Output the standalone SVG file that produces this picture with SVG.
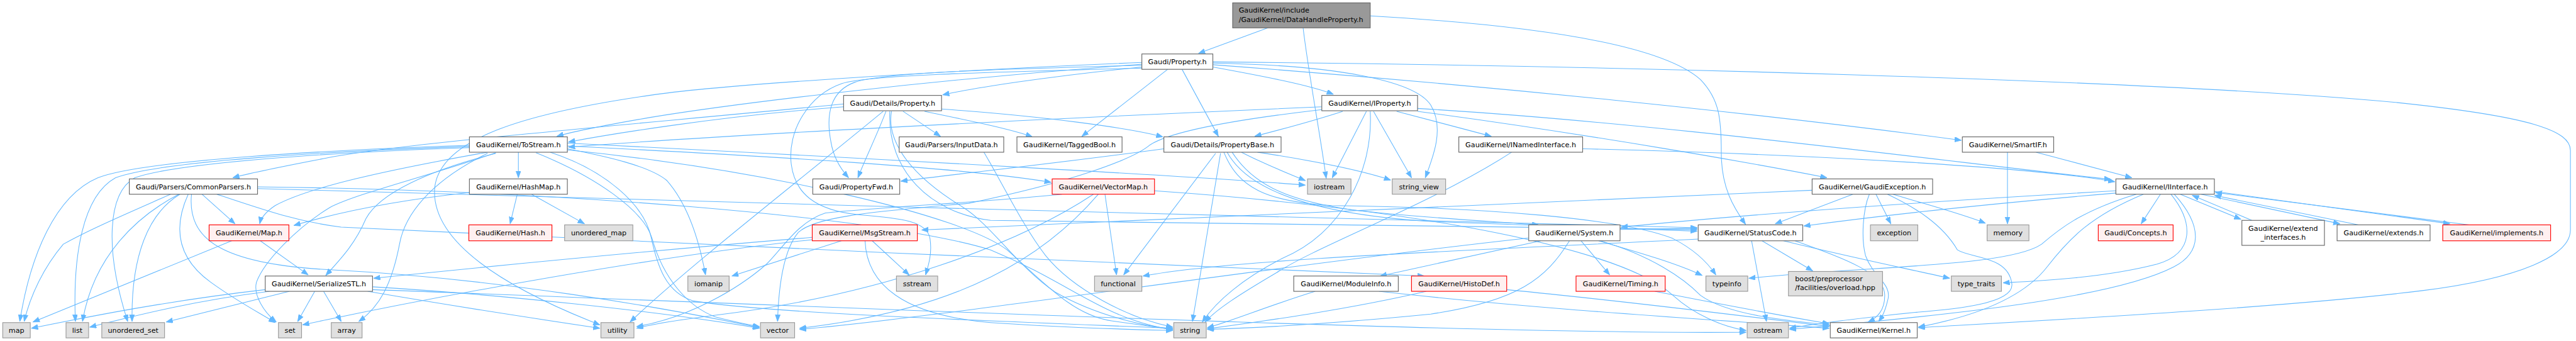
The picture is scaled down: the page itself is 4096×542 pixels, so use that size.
<svg xmlns="http://www.w3.org/2000/svg" width="4096" height="542" viewBox="0 0 4096 542">
<defs>
<marker id="ah" markerUnits="userSpaceOnUse" markerWidth="13" markerHeight="10" refX="12" refY="4.5" orient="auto"><path d="M0,0 L12,4.5 L0,9 z" fill="#63b8ff" stroke="#63b8ff" stroke-width="1"/></marker>
</defs>
<style>
.e path{fill:none;stroke:#63b8ff;stroke-width:1.2;marker-end:url(#ah)}
.node rect{fill:#ffffff;stroke:#666666;stroke-width:1.3}
.x rect{fill:#e0e0e0;stroke:#999999}
.r rect{fill:#fff0f0;stroke:#ff0000}
.m rect{fill:#999999;stroke:#666666}
text{font-family:"DejaVu Sans",sans-serif;font-size:12.8px;fill:#000000;text-anchor:middle}
.l text{text-anchor:start}
</style>
<rect width="4096" height="542" fill="#ffffff"/>
<g transform="scale(0.875)">
<g id="edges" class="e" transform="scale(1,1.0316)">
<path d="M2304,49 L2178,94"/>
<path d="M2368,49 C2378,130 2398,230 2410,314"/>
<path d="M2490,28 C2800,45 3020,80 3090,140 C3125,175 3128,210 3128,270 C3128,330 3150,365 3172,395"/>
<path d="M2075,118 C1900,135 1770,155 1713,167"/>
<path d="M2075,113 C1700,140 1350,180 1180,207 C1090,222 1040,232 1012,240"/>
<path d="M1533,183 C1200,215 750,250 600,277 C520,292 460,303 423,313"/>
<path d="M2122,122 L1966,240"/>
<path d="M2148,122 L2214,240"/>
<path d="M2204,118 C2300,135 2380,150 2423,166"/>
<path d="M2204,114 C2700,150 3200,200 3564,247"/>
<path d="M2204,109 C2900,115 3900,140 4350,180 C4600,205 4671,230 4671,265 L4671,405 C4671,450 4580,490 4400,512 C4150,542 3700,565 3486,577"/>
<path d="M2204,111 C2420,115 2570,140 2600,185 C2625,225 2605,275 2590,313"/>
<path d="M2075,115 C1800,122 1600,128 1553,145 C1510,160 1500,200 1510,250 C1515,280 1530,300 1542,313"/>
<path d="M2075,120 C1800,127 1580,132 1530,147 C1470,167 1430,230 1438,290 C1445,340 1480,370 1560,378 C1640,384 1685,390 1690,420 C1694,445 1688,465 1682,484"/>
<path d="M2075,110 C1700,125 1300,150 1180,168 C950,200 800,245 790,330 C782,420 900,500 1090,572"/>
<path d="M1533,188 C1300,205 1100,238 1033,250"/>
<path d="M1610,196 C1595,235 1572,280 1559,313"/>
<path d="M1641,196 L1709,240"/>
<path d="M1680,196 C1760,212 1840,228 1876,241"/>
<path d="M1711,192 C1900,205 2050,225 2113,241"/>
<path d="M1605,196 C1450,320 1250,470 1145,567"/>
<path d="M1617,196 C1612,300 1690,375 1800,388 C2300,398 2800,402 3084,404"/>
<path d="M1620,196 C1612,240 1640,300 1750,365 C1800,395 1850,470 1917,514 C1990,555 2080,575 2131,579"/>
<path d="M853,256 C600,264 260,282 178,313 C100,345 55,450 36,566"/>
<path d="M853,258 C600,266 290,284 210,313 C150,345 132,450 137,566"/>
<path d="M853,260 C600,268 320,287 245,313 C195,340 190,440 232,566"/>
<path d="M942,268 L942,313"/>
<path d="M886,268 C700,300 560,330 500,362 C480,375 474,385 472,394"/>
<path d="M901,269 C780,310 650,340 600,365 C540,400 480,460 466,497 C460,520 480,550 502,567"/>
<path d="M901,270 C780,300 690,340 665,385 C645,430 620,455 592,485"/>
<path d="M886,270 C780,320 735,380 726,430 C712,500 690,540 652,566"/>
<path d="M1031,262 C1100,275 1180,292 1212,318 C1250,360 1270,420 1282,484"/>
<path d="M1000,268 C1100,300 1170,360 1183,417 C1195,470 1210,515 1260,530 C1400,552 1800,565 2131,578"/>
<path d="M974,269 C1080,310 1170,370 1185,420 C1205,490 1250,540 1300,558 C1340,568 1360,572 1380,575"/>
<path d="M1031,264 C1400,300 1750,380 1830,440 C1900,500 1950,555 2020,565 C2070,572 2100,576 2131,580"/>
<path d="M1031,257 C1400,275 1750,295 1910,321"/>
<path d="M1031,252 C1600,280 2200,312 2372,326"/>
<path d="M940,342 L927,394"/>
<path d="M966,342 L1062,394"/>
<path d="M853,339 C700,355 600,378 534,397"/>
<path d="M310,342 C240,372 160,405 115,430 C80,470 55,520 44,566"/>
<path d="M325,342 C250,380 170,450 150,566"/>
<path d="M327,342 C270,375 238,450 240,566"/>
<path d="M342,342 C310,410 330,460 383,497 C430,530 470,550 500,568"/>
<path d="M367,342 L427,394"/>
<path d="M348,342 C340,420 400,465 600,475 C900,490 1200,540 1380,577"/>
<path d="M394,342 C480,370 540,390 620,400 C1200,430 2000,460 2588,486"/>
<path d="M468,332 C1200,350 2500,392 3084,401"/>
<path d="M468,329 C1000,335 1600,380 1800,440 C1950,500 2000,560 2131,581"/>
<path d="M421,424 L60,567"/>
<path d="M473,424 L560,484"/>
<path d="M482,510 C300,530 150,560 57,578"/>
<path d="M490,513 C350,530 250,555 163,576"/>
<path d="M526,513 L302,567"/>
<path d="M572,513 L541,566"/>
<path d="M588,513 L620,566"/>
<path d="M668,513 C800,535 1000,565 1090,578"/>
<path d="M677,505 C900,518 1200,548 1380,578"/>
<path d="M677,510 C1500,540 2700,590 3173,585"/>
<path d="M1529,424 L1330,486"/>
<path d="M1585,424 L1652,484"/>
<path d="M1572,424 C1575,500 1640,555 1800,568 C1950,578 2050,580 2131,582"/>
<path d="M1476,418 C1200,440 900,468 679,490"/>
<path d="M1476,422 C1200,450 800,520 550,572"/>
<path d="M2008,342 L2029,484"/>
<path d="M1996,342 C1900,450 1750,545 1453,578"/>
<path d="M1930,342 C1800,355 1600,365 1500,375 C1450,390 1420,440 1393,465 C1340,510 1250,560 1157,575"/>
<path d="M1987,342 C1850,430 1600,520 1300,555 C1220,565 1180,572 1157,578"/>
<path d="M2098,336 C2600,370 2950,440 3040,520 C3080,555 3130,575 3173,582"/>
<path d="M2115,262 C1900,290 1750,305 1637,319"/>
<path d="M2209,270 L2042,484"/>
<path d="M2218,270 L2167,566"/>
<path d="M2256,268 C2300,290 2340,305 2372,318"/>
<path d="M2285,268 C2400,285 2480,302 2527,317"/>
<path d="M2239,268 C2280,330 2350,355 2460,370 C2600,385 2720,390 2796,396"/>
<path d="M2230,268 C2270,340 2400,378 2600,390 C2900,400 3000,403 3084,407"/>
<path d="M2224,268 C2250,330 2300,355 2420,362 C2700,365 2950,385 3040,420 C3080,440 3105,465 3118,484"/>
<path d="M2800,424 L2508,486"/>
<path d="M2873,424 L2925,484"/>
<path d="M2852,424 C2810,490 2760,530 2600,553 C2400,572 2260,578 2194,580"/>
<path d="M2905,424 C2980,445 3050,465 3093,485"/>
<path d="M2908,424 C3000,450 3060,490 3090,520 C3140,555 3250,565 3324,572"/>
<path d="M2944,404 L3084,402"/>
<path d="M2778,419 C2300,470 1700,560 1453,580"/>
<path d="M3183,424 L3210,566"/>
<path d="M3202,424 L3294,477"/>
<path d="M3241,424 C3350,450 3450,470 3543,490"/>
<path d="M3262,424 C3350,455 3425,480 3425,520 C3425,548 3410,560 3395,567"/>
<path d="M3086,421 C2700,440 2250,455 2077,486"/>
<path d="M3367,342 L3226,394"/>
<path d="M3397,342 C3385,370 3382,420 3390,450 C3405,490 3440,500 3430,530 C3425,550 3420,558 3414,566"/>
<path d="M3409,342 L3436,394"/>
<path d="M3440,342 C3500,360 3560,375 3608,393"/>
<path d="M3430,342 C3480,365 3530,395 3557,440 C3580,455 3650,450 3656,500 C3660,535 3550,545 3480,550 C3400,558 3300,570 3252,578"/>
<path d="M3293,335 C2600,360 2000,390 1675,405"/>
<path d="M3926,342 L3891,394"/>
<path d="M3845,336 C3500,355 3200,375 2946,400"/>
<path d="M3845,340 C3600,360 3400,382 3278,398"/>
<path d="M3882,342 C3780,372 3740,405 3710,430 C3650,470 3400,468 3178,490"/>
<path d="M3895,342 C3800,380 3760,420 3720,470 C3680,520 3600,555 3486,576"/>
<path d="M3945,342 C3985,390 3990,445 3920,465 C3820,490 3700,495 3640,498"/>
<path d="M3951,342 C4005,400 4000,445 3950,470 C3850,520 3600,550 3252,580"/>
<path d="M3962,342 L4072,386"/>
<path d="M4092,388 L3984,344"/>
<path d="M4000,342 L4252,394"/>
<path d="M4286,396 L4024,344"/>
<path d="M4024,337 L4452,394"/>
<path d="M4487,396 L4026,339"/>
<path d="M3648,268 L3648,394"/>
<path d="M3700,268 L3874,313"/>
<path d="M2876,262 C3300,272 3700,295 3843,320"/>
<path d="M2747,268 C2600,360 2400,430 2320,480 C2250,520 2210,545 2190,567"/>
<path d="M2538,196 L2710,240"/>
<path d="M2483,196 L2421,313"/>
<path d="M2496,196 L2565,313"/>
<path d="M2490,196 C2496,300 2440,410 2330,455 C2260,490 2210,530 2185,567"/>
<path d="M2440,196 C2380,215 2320,230 2280,240"/>
<path d="M2402,188 C2000,205 1400,232 1033,259"/>
<path d="M2576,191 C3000,215 3500,280 3836,316"/>
<path d="M2576,196 C2900,238 3200,290 3320,313"/>
<path d="M2402,193 C2250,210 2130,230 2090,255 C2060,280 1950,320 1760,358 C1600,372 1480,380 1450,410 C1425,440 1415,500 1413,566"/>
<path d="M1788,268 C1820,320 1860,400 1900,450 C1950,510 2050,560 2131,576"/>
<path d="M2390,513 C2300,540 2240,565 2194,577"/>
<path d="M2506,513 C2800,545 3100,562 3324,578"/>
<path d="M2592,513 C2450,545 2300,565 2194,579"/>
<path d="M2738,510 C2950,530 3200,560 3324,575"/>
<path d="M3007,513 C3150,540 3250,558 3324,570"/>
</g>
<g id="n_main" class="node m l"><rect x="2240" y="5.2" width="250" height="45.4"/><text x="2251" y="22.7">GaudiKernel/include</text><text x="2251" y="40.2">/GaudiKernel/DataHandleProperty.h</text></g>
<g id="n_property" class="node"><rect x="2075" y="98" width="129" height="27.9"/><text x="2139.5" y="116.6">Gaudi/Property.h</text></g>
<g id="n_detproperty" class="node"><rect x="1533" y="173.3" width="178" height="27.9"/><text x="1622" y="191.9">Gaudi/Details/Property.h</text></g>
<g id="n_iproperty" class="node"><rect x="2402" y="173.3" width="174" height="27.9"/><text x="2489" y="191.9">GaudiKernel/IProperty.h</text></g>
<g id="n_tostream" class="node"><rect x="853" y="248.6" width="178" height="27.9"/><text x="942" y="267.2">GaudiKernel/ToStream.h</text></g>
<g id="n_inputdata" class="node"><rect x="1634" y="248.6" width="190" height="27.9"/><text x="1729" y="267.2">Gaudi/Parsers/InputData.h</text></g>
<g id="n_taggedbool" class="node"><rect x="1848" y="248.6" width="191" height="27.9"/><text x="1943.5" y="267.2">GaudiKernel/TaggedBool.h</text></g>
<g id="n_propertybase" class="node"><rect x="2115" y="248.6" width="213" height="27.9"/><text x="2221.5" y="267.2">Gaudi/Details/PropertyBase.h</text></g>
<g id="n_inamedinterface" class="node"><rect x="2651" y="248.6" width="225" height="27.9"/><text x="2763.5" y="267.2">GaudiKernel/INamedInterface.h</text></g>
<g id="n_smartif" class="node"><rect x="3566" y="248.6" width="166" height="27.9"/><text x="3649" y="267.2">GaudiKernel/SmartIF.h</text></g>
<g id="n_commonparsers" class="node"><rect x="235" y="325" width="233" height="27.8"/><text x="351.5" y="343.5">Gaudi/Parsers/CommonParsers.h</text></g>
<g id="n_hashmap" class="node"><rect x="853" y="325" width="178" height="27.8"/><text x="942" y="343.5">GaudiKernel/HashMap.h</text></g>
<g id="n_propertyfwd" class="node"><rect x="1477" y="325" width="158" height="27.8"/><text x="1556" y="343.5">Gaudi/PropertyFwd.h</text></g>
<g id="n_vectormap" class="node r"><rect x="1912" y="325" width="186" height="27.8"/><text x="2005" y="343.5">GaudiKernel/VectorMap.h</text></g>
<g id="n_iostream" class="node x"><rect x="2376" y="325" width="79" height="27.8"/><text x="2415.5" y="343.5">iostream</text></g>
<g id="n_string_view" class="node x"><rect x="2530" y="325" width="97" height="27.8"/><text x="2578.5" y="343.5">string_view</text></g>
<g id="n_gaudiexception" class="node"><rect x="3293" y="325" width="219" height="27.8"/><text x="3402.5" y="343.5">GaudiKernel/GaudiException.h</text></g>
<g id="n_iinterface" class="node"><rect x="3845" y="325" width="179" height="27.8"/><text x="3934.5" y="343.5">GaudiKernel/IInterface.h</text></g>
<g id="n_maph" class="node r"><rect x="380" y="408.5" width="145" height="28.9"/><text x="452.5" y="427.6">GaudiKernel/Map.h</text></g>
<g id="n_hashh" class="node r"><rect x="852" y="408.5" width="151" height="28.9"/><text x="927.5" y="427.6">GaudiKernel/Hash.h</text></g>
<g id="n_unordered_map" class="node x"><rect x="1026" y="408.5" width="124" height="28.9"/><text x="1088" y="427.6">unordered_map</text></g>
<g id="n_msgstream" class="node r"><rect x="1476" y="408.5" width="191" height="28.9"/><text x="1571.5" y="427.6">GaudiKernel/MsgStream.h</text></g>
<g id="n_system" class="node"><rect x="2778" y="408.5" width="166" height="28.9"/><text x="2861" y="427.6">GaudiKernel/System.h</text></g>
<g id="n_statuscode" class="node"><rect x="3086" y="408.5" width="190" height="28.9"/><text x="3181" y="427.6">GaudiKernel/StatusCode.h</text></g>
<g id="n_exception" class="node x"><rect x="3399" y="408.5" width="86" height="28.9"/><text x="3442" y="427.6">exception</text></g>
<g id="n_memory" class="node x"><rect x="3611" y="408.5" width="76" height="28.9"/><text x="3649" y="427.6">memory</text></g>
<g id="n_concepts" class="node r"><rect x="3813" y="408.5" width="136" height="28.9"/><text x="3881" y="427.6">Gaudi/Concepts.h</text></g>
<g id="n_extend_interfaces" class="node"><rect x="4074" y="400.3" width="150" height="45.4"/><text x="4149" y="419.3">GaudiKernel/extend</text><text x="4149" y="435.9">_interfaces.h</text></g>
<g id="n_extends" class="node"><rect x="4247" y="408.5" width="169" height="28.9"/><text x="4331.5" y="427.6">GaudiKernel/extends.h</text></g>
<g id="n_implements" class="node r"><rect x="4439" y="408.5" width="196" height="28.9"/><text x="4537" y="427.6">GaudiKernel/implements.h</text></g>
<g id="n_serializestl" class="node"><rect x="482" y="501.4" width="195" height="27.8"/><text x="579.5" y="519.9">GaudiKernel/SerializeSTL.h</text></g>
<g id="n_iomanip" class="node x"><rect x="1250" y="501.4" width="75" height="27.8"/><text x="1287.5" y="519.9">iomanip</text></g>
<g id="n_sstream" class="node x"><rect x="1629" y="501.4" width="75" height="27.8"/><text x="1666.5" y="519.9">sstream</text></g>
<g id="n_functional" class="node x"><rect x="1989" y="501.4" width="86" height="27.8"/><text x="2032" y="519.9">functional</text></g>
<g id="n_moduleinfo" class="node"><rect x="2351" y="501.4" width="190" height="27.8"/><text x="2446" y="519.9">GaudiKernel/ModuleInfo.h</text></g>
<g id="n_histodef" class="node r"><rect x="2565" y="501.4" width="173" height="27.8"/><text x="2651.5" y="519.9">GaudiKernel/HistoDef.h</text></g>
<g id="n_timing" class="node r"><rect x="2864" y="501.4" width="162" height="27.8"/><text x="2945" y="519.9">GaudiKernel/Timing.h</text></g>
<g id="n_typeinfo" class="node x"><rect x="3100" y="501.4" width="76" height="27.8"/><text x="3138" y="519.9">typeinfo</text></g>
<g id="n_boost" class="node x l"><rect x="3250" y="493.1" width="171" height="44.4"/><text x="3262" y="510.6">boost/preprocessor</text><text x="3262" y="527.2">/facilities/overload.hpp</text></g>
<g id="n_type_traits" class="node x"><rect x="3546" y="501.4" width="91" height="27.8"/><text x="3591.5" y="519.9">type_traits</text></g>
<g id="n_map" class="node x"><rect x="5" y="586" width="50" height="27.8"/><text x="30" y="604.5">map</text></g>
<g id="n_list" class="node x"><rect x="120" y="586" width="41" height="27.8"/><text x="140.5" y="604.5">list</text></g>
<g id="n_unordered_set" class="node x"><rect x="185" y="586" width="114" height="27.8"/><text x="242" y="604.5">unordered_set</text></g>
<g id="n_set" class="node x"><rect x="506" y="586" width="42" height="27.8"/><text x="527" y="604.5">set</text></g>
<g id="n_array" class="node x"><rect x="602" y="586" width="56" height="27.8"/><text x="630" y="604.5">array</text></g>
<g id="n_utility" class="node x"><rect x="1092" y="586" width="60" height="27.8"/><text x="1122" y="604.5">utility</text></g>
<g id="n_vector" class="node x"><rect x="1382" y="586" width="62" height="27.8"/><text x="1413" y="604.5">vector</text></g>
<g id="n_string" class="node x"><rect x="2133" y="586" width="59" height="27.8"/><text x="2162.5" y="604.5">string</text></g>
<g id="n_ostream" class="node x"><rect x="3175" y="586" width="75" height="27.8"/><text x="3212.5" y="604.5">ostream</text></g>
<g id="n_kernel" class="node"><rect x="3326" y="586" width="158" height="27.8"/><text x="3405" y="604.5">GaudiKernel/Kernel.h</text></g>
</g>
</svg>
